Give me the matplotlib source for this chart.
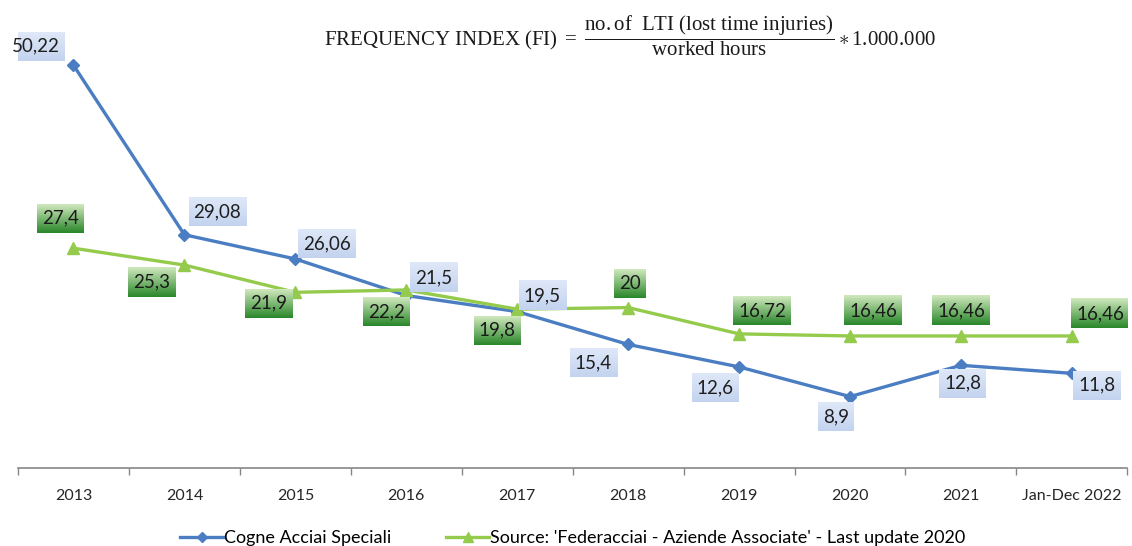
import numpy as np
import matplotlib as mpl
import matplotlib.pyplot as plt
from matplotlib.lines import Line2D

#  Chart data.
categories = ['2013', '2014', '2015', '2016', '2017', '2018', '2019', '2020', '2021', 'Jan-Dec 2022']
cogne = [50.22, 29.08, 26.06, 21.5, 19.5, 15.4, 12.6, 8.9, 12.8, 11.8]
federacciai = [27.4, 25.3, 21.9, 22.2, 19.8, 20, 16.72, 16.46, 16.46, 16.46]
cogne_labels = ['50,22', '29,08', '26,06', '21,5', '19,5', '15,4', '12,6', '8,9', '12,8', '11,8']
fed_labels = ['27,4', '25,3', '21,9', '22,2', '19,8', '20', '16,72', '16,46', '16,46', '16,46']

#  Label offsets (pixels) relative to each point.
cogne_off = [(-38, 19), (33, 23), (32, 15), (27, 18), (25, 16), (-35, -18), (-24, -21), (-14, -20), (2, -18), (25, -12)]
fed_off = [(-13, 30), (-33, -17), (-27, -11), (-20, -22), (-20, -21), (2, 24), (23, 23), (23, 25), (0, 25), (28, 22)]

blue = '#4a7dc2'
green = '#94cb4c'

mpl.rcParams['font.family'] = ['Lato', 'DejaVu Sans']
mpl.rcParams['mathtext.fontset'] = 'custom'
mpl.rcParams['mathtext.rm'] = 'Liberation Serif'
mpl.rcParams['mathtext.it'] = 'Liberation Serif:italic'

fig = plt.figure(figsize=(11.32, 5.46), dpi=100)
ax = fig.add_axes([0.0159, 0.1429, 0.98, 0.852])
ax.set_facecolor('none')

x = np.arange(len(categories))
ax.plot(x, cogne, color=blue, lw=2.4, marker='D', ms=6.5, zorder=3)
ax.plot(x, federacciai, color=green, lw=2.4, marker='^', ms=9, zorder=3)

ax.set_xlim(-0.5, len(categories) - 0.5)
ax.set_ylim(0, 58)
ax.set_xticks(x)
ax.set_xticklabels(categories, fontsize=11.5, color='#262626')
ax.set_xticks(np.arange(-0.5, len(categories), 1.0), minor=True)
ax.tick_params(axis='x', which='major', length=0, pad=15)
ax.tick_params(axis='x', which='minor', length=5, color='#868686', width=1)
ax.set_yticks([])
for s in ['top', 'right', 'left']:
	ax.spines[s].set_visible(False)
ax.spines['bottom'].set_color('#868686')
ax.spines['bottom'].set_linewidth(1.2)

#  Data labels.
texts = []
for i in range(len(categories)):
	t = ax.annotate(cogne_labels[i], (x[i], cogne[i]), xytext=cogne_off[i], textcoords='offset pixels',
		ha='center', va='center', fontsize=13.5, color='#1f1f1f', zorder=6)
	texts.append((t, '#c3d3ef', '#dfe8f8'))
	t = ax.annotate(fed_labels[i], (x[i], federacciai[i]), xytext=fed_off[i], textcoords='offset pixels',
		ha='center', va='center', fontsize=13.5, color='#1a1a1a', zorder=6)
	texts.append((t, '#2a872a', '#cfe8bd'))

#  Gradient boxes behind the labels.
fig.canvas.draw()
renderer = fig.canvas.get_renderer()
inv = ax.transData.inverted()
for t, c0, c1 in texts:
	bb = t.get_window_extent(renderer)
	x0, y0 = bb.x0 - 5, bb.y0 - 6
	x1, y1 = bb.x1 + 5, bb.y1 + 6
	(dx0, dy0), (dx1, dy1) = inv.transform([[x0, y0], [x1, y1]])
	a = np.array(mpl.colors.to_rgb(c0))
	b = np.array(mpl.colors.to_rgb(c1))
	f = np.linspace(0, 1, 32)[:, None, None]
	grad = a * (1 - f) + b * f
	ax.imshow(grad, extent=(dx0, dx1, dy0, dy1), origin='lower', aspect='auto',
		interpolation='bilinear', zorder=5)
ax.set_xlim(-0.5, len(categories) - 0.5)
ax.set_ylim(0, 58)

#  Formula title.
fig.text(0.557, 0.935,
	r'$\mathrm{FREQUENCY\ INDEX\ (FI)}\ =\ \dfrac{\mathrm{no.of\ \ LTI\ (lost\ time\ injuries)}}{\mathrm{worked\ hours}} \ast \mathrm{1.000.000}$',
	ha='center', va='center', fontsize=15, color='#1a1a1a')

#  Legend.
handles = [Line2D([], [], color=blue, lw=2.4, marker='D', ms=5),
	Line2D([], [], color=green, lw=2.4, marker='^', ms=7)]
fig.legend(handles, ['Cogne Acciai Speciali', "Source: 'Federacciai - Aziende Associate' - Last update 2020"],
	loc='lower center', bbox_to_anchor=(0.506, -0.03), ncol=2, frameon=False, fontsize=13,
	handlelength=2.4, handletextpad=0.05, columnspacing=3)

fig.savefig('out.png', dpi=100)
